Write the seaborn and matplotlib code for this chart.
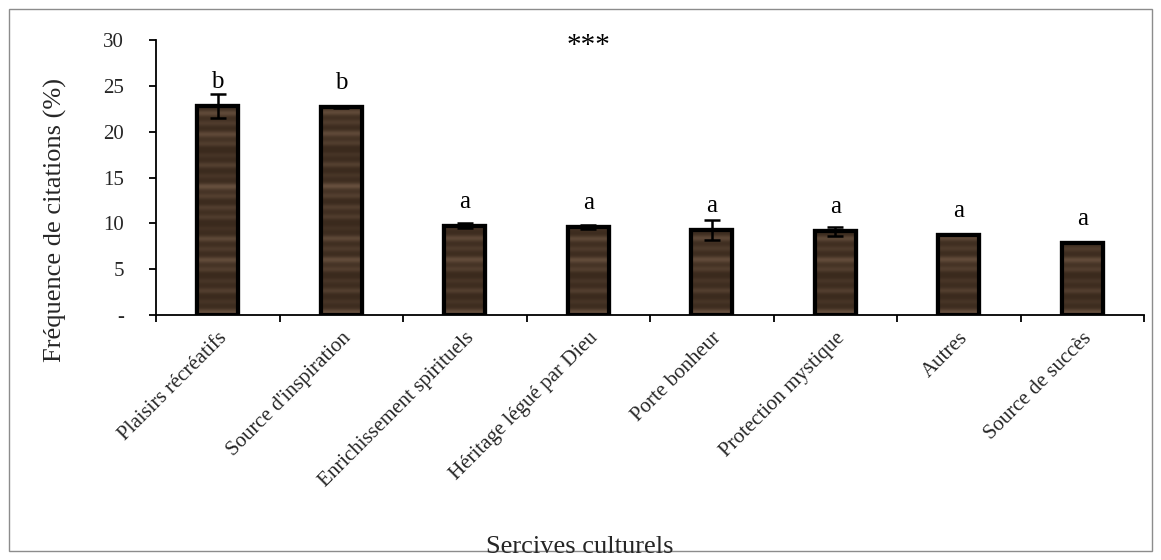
import numpy as np
import pandas as pd
import matplotlib
matplotlib.use("Agg")
import matplotlib.pyplot as plt
import seaborn as sns
from matplotlib.patches import Rectangle

categories = ["Plaisirs récréatifs", "Source d'inspiration", "Enrichissement spirituels",
              "Héritage légué par Dieu", "Porte bonheur", "Protection mystique",
              "Autres", "Source de succès"]
frequencies = [22.8, 22.7, 9.75, 9.6, 9.3, 9.15, 8.75, 7.85]
errors = [1.35, 0.1, 0.25, 0.2, 1.1, 0.5, 0.05, 0.0]
groups = ["b", "b", "a", "a", "a", "a", "a", "a"]
ytick_values = [0, 5, 10, 15, 20, 25, 30]
ytick_labels = ["-", "5", "10", "15", "20", "25", "30"]

df = pd.DataFrame({"service": categories, "freq": frequencies})

sns.set_theme(style="white")
plt.rcParams["font.family"] = ["Liberation Serif", "DejaVu Serif"]

fig = plt.figure(figsize=(11.61, 5.6), dpi=100)
ax = fig.add_axes([0.1344, 0.4375, 0.851, 0.491])

sns.barplot(data=df, x="service", y="freq", ax=ax, width=0.33,
            color="#3b2a1e", edgecolor="black", linewidth=3.0,
            errorbar=None, saturation=1)

# wood-grain fill clipped to each bar: dark base with soft lighter streaks
rows = np.arange(300)
grain = (0.5 + 0.25 * np.sin(rows * 0.55) + 0.2 * np.sin(rows * 0.23 + 1.3)
         + 0.15 * np.sin(rows * 0.09 + 2.0))
grain = (grain - grain.min()) / (grain.max() - grain.min())
grain = grain ** 2.0
base = np.array([0.23, 0.165, 0.115])
light = np.array([0.40, 0.31, 0.24])
tex = base[None, :] + grain[:, None] * (light - base)[None, :]
tex = np.repeat(tex[:, None, :], 4, axis=1)

for patch in list(ax.patches):
    x0, y0 = patch.get_x(), patch.get_y()
    w, h = patch.get_width(), patch.get_height()
    im = ax.imshow(tex, extent=[x0, x0 + w, 0, 30], aspect="auto",
                   origin="lower", zorder=patch.get_zorder() + 0.1,
                   interpolation="bilinear")
    im.set_clip_path(patch)
    outline = Rectangle((x0, y0), w, h, fill=False, edgecolor="black",
                        linewidth=3.0, zorder=patch.get_zorder() + 0.2)
    ax.add_patch(outline)

xpos = np.arange(len(categories))
ax.errorbar(xpos, frequencies, yerr=errors, fmt="none", ecolor="black",
            elinewidth=1.8, capsize=6, capthick=1.8, zorder=5)

for x, v, g in zip(xpos, frequencies, groups):
    ax.text(x, v + 1.95, g, ha="center", va="baseline",
            fontsize=18, color="black")

ax.text(3.0, 29.3, "***", ha="center", va="center", fontsize=21, color="black")

ax.set_xlim(-0.5, len(categories) - 0.5)
ax.set_ylim(0, 30)
ax.set_yticks(ytick_values)
ax.set_yticklabels(ytick_labels, fontsize=15)
ax.set_xticks(xpos)
ax.set_xticklabels(categories, rotation=45, ha="right", rotation_mode="anchor",
                   fontsize=15)
ax.tick_params(axis="x", length=0, pad=10)
ax.set_xticks(np.arange(len(categories) + 1) - 0.5, minor=True)
ax.tick_params(axis="x", which="minor", direction="out", length=5, width=1.3,
               color="black", bottom=True)
ax.tick_params(axis="y", direction="out", length=5, width=1.3, color="black",
               left=True, pad=18)

for side in ["top", "right"]:
    ax.spines[side].set_visible(False)
for side in ["left", "bottom"]:
    ax.spines[side].set_color("black")
    ax.spines[side].set_linewidth(1.3)

ax.set_xlabel("")
ax.set_ylabel("")
fig.text(55 / 1161, 1 - 220 / 560, "Fréquence de citations (%)", rotation=90,
         ha="center", va="center", fontsize=19)
fig.text(580 / 1161, 1 - 547 / 560, "Sercives culturels", ha="center",
         va="center", fontsize=19)

border = Rectangle((0.008, 0.016), 0.984, 0.968, transform=fig.transFigure,
                   fill=False, edgecolor="#8c8c8c", linewidth=1.0)
fig.patches.append(border)

fig.savefig("out.png", dpi=100)
